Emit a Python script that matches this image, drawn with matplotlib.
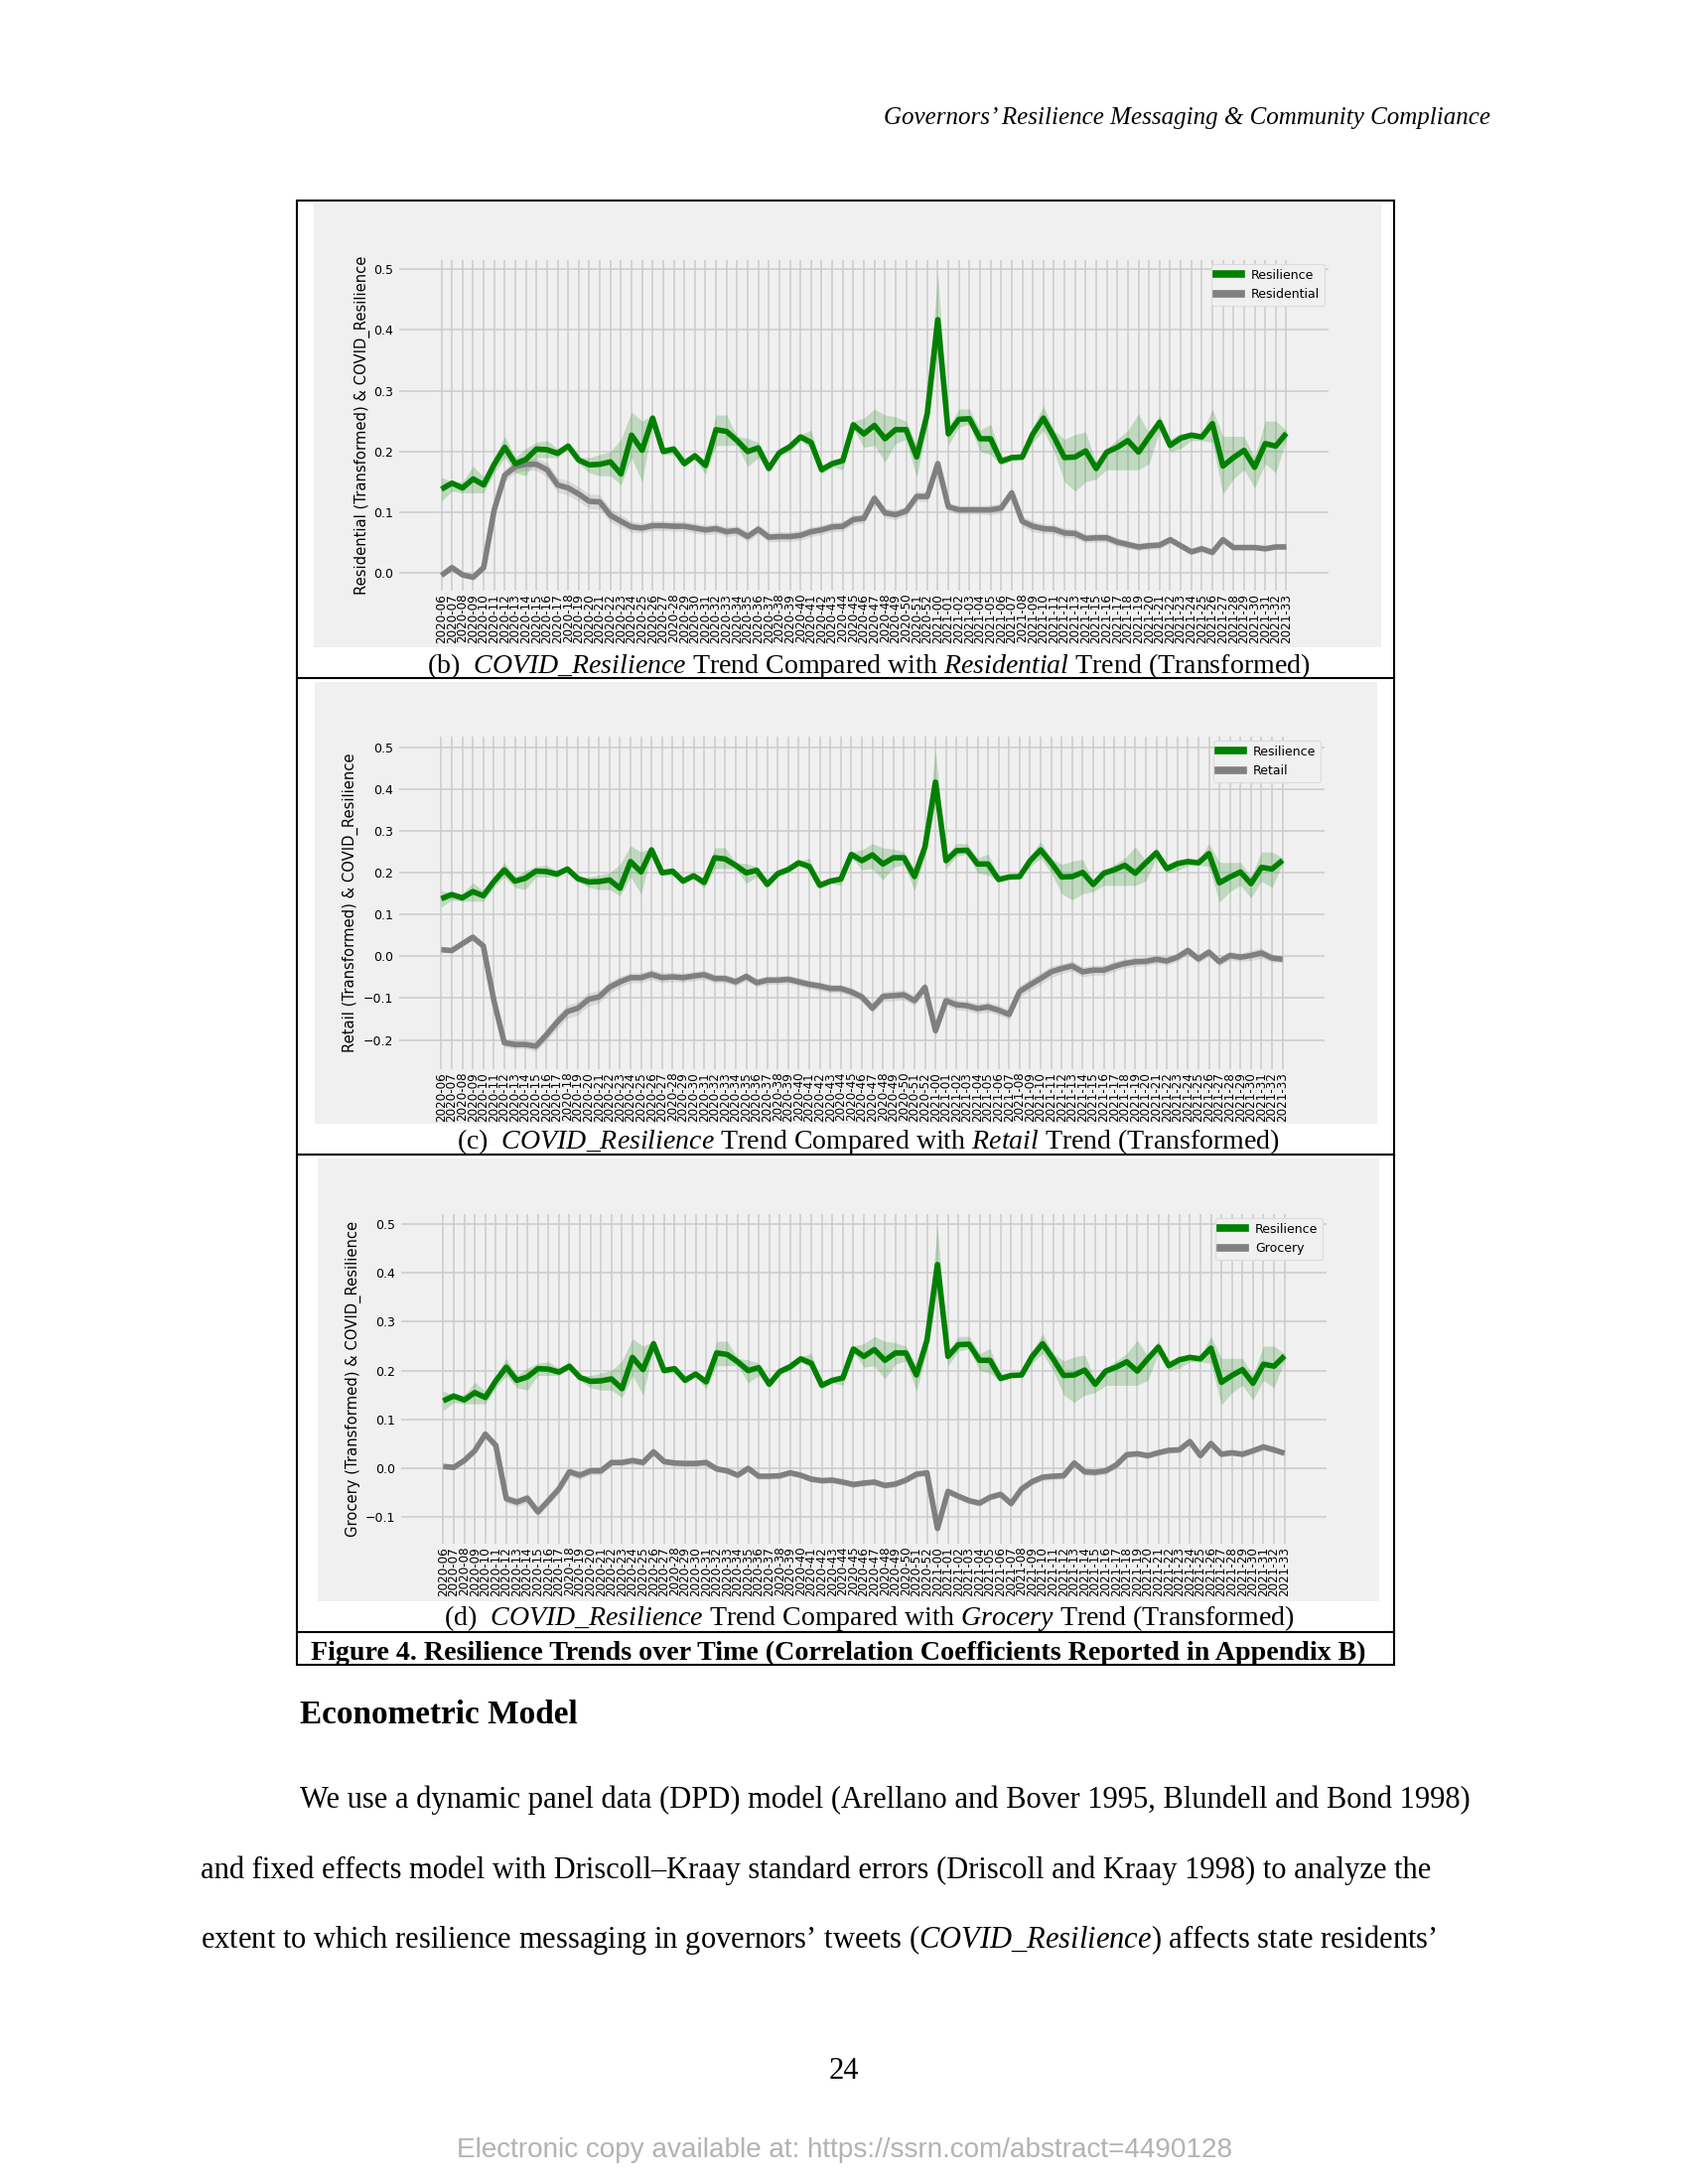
import numpy as np
import matplotlib
matplotlib.use("Agg")
import matplotlib.pyplot as plt
from matplotlib.patches import Rectangle
from matplotlib.lines import Line2D

plt.rcParams['mathtext.fontset'] = 'custom'
plt.rcParams['mathtext.rm'] = 'Liberation Serif'
plt.rcParams['mathtext.it'] = 'Liberation Serif:italic'
plt.rcParams['mathtext.bf'] = 'Liberation Serif:bold'

# week labels (x axis)
weeks = ['2020-%02d' % w for w in range(6, 53)] + ['2021-%02d' % w for w in range(0, 34)]

# COVID_Resilience mean and its band
resilience = [0.138, 0.148, 0.140, 0.155, 0.145, 0.179, 0.207, 0.180, 0.187, 0.204,
              0.203, 0.197, 0.209, 0.186, 0.178, 0.179, 0.183, 0.163, 0.227, 0.202,
              0.255, 0.200, 0.204, 0.180, 0.193, 0.177, 0.236, 0.233, 0.218, 0.200,
              0.206, 0.172, 0.198, 0.208, 0.224, 0.215, 0.170, 0.180, 0.185, 0.244,
              0.229, 0.243, 0.221, 0.236, 0.236, 0.191, 0.262, 0.417, 0.229, 0.253,
              0.254, 0.221, 0.221, 0.184, 0.190, 0.191, 0.229, 0.255, 0.224, 0.190,
              0.191, 0.201, 0.172, 0.199, 0.207, 0.218, 0.199, 0.224, 0.248, 0.210,
              0.222, 0.227, 0.224, 0.246, 0.176, 0.190, 0.202, 0.174, 0.213, 0.209,
              0.230]
res_hi = [0.158, 0.150, 0.150, 0.176, 0.158, 0.190, 0.225, 0.190, 0.205, 0.215,
          0.218, 0.205, 0.213, 0.190, 0.190, 0.195, 0.200, 0.220, 0.265, 0.250,
          0.260, 0.207, 0.210, 0.190, 0.197, 0.185, 0.260, 0.260, 0.225, 0.222,
          0.215, 0.180, 0.205, 0.213, 0.228, 0.235, 0.175, 0.185, 0.190, 0.250,
          0.255, 0.270, 0.260, 0.257, 0.250, 0.210, 0.280, 0.493, 0.240, 0.270,
          0.270, 0.235, 0.245, 0.190, 0.193, 0.195, 0.240, 0.275, 0.235, 0.220,
          0.228, 0.232, 0.180, 0.205, 0.220, 0.235, 0.262, 0.230, 0.260, 0.220,
          0.230, 0.230, 0.230, 0.270, 0.225, 0.225, 0.225, 0.190, 0.250, 0.250,
          0.235]
res_lo = [0.118, 0.135, 0.132, 0.132, 0.132, 0.165, 0.190, 0.165, 0.160, 0.190,
          0.190, 0.190, 0.205, 0.180, 0.165, 0.160, 0.160, 0.145, 0.190, 0.150,
          0.245, 0.195, 0.195, 0.175, 0.188, 0.163, 0.210, 0.210, 0.210, 0.175,
          0.190, 0.168, 0.193, 0.200, 0.218, 0.205, 0.163, 0.175, 0.170, 0.238,
          0.207, 0.210, 0.183, 0.213, 0.220, 0.158, 0.240, 0.365, 0.210, 0.240,
          0.245, 0.200, 0.195, 0.178, 0.186, 0.186, 0.215, 0.235, 0.200, 0.150,
          0.135, 0.150, 0.155, 0.170, 0.170, 0.170, 0.170, 0.180, 0.235, 0.200,
          0.205, 0.218, 0.218, 0.215, 0.130, 0.155, 0.170, 0.140, 0.180, 0.165,
          0.220]

# mobility series (transformed) and band half-widths
residential = [-0.004, 0.009, -0.003, -0.007, 0.009, 0.104, 0.161, 0.175, 0.179, 0.179,
               0.170, 0.145, 0.140, 0.130, 0.118, 0.117, 0.095, 0.085, 0.076, 0.074,
               0.078, 0.078, 0.077, 0.077, 0.074, 0.071, 0.073, 0.068, 0.070, 0.060,
               0.072, 0.059, 0.060, 0.060, 0.062, 0.068, 0.071, 0.076, 0.077, 0.088,
               0.090, 0.123, 0.099, 0.096, 0.102, 0.126, 0.126, 0.180, 0.109, 0.104,
               0.104, 0.104, 0.104, 0.107, 0.132, 0.085, 0.077, 0.073, 0.072, 0.066,
               0.065, 0.057, 0.058, 0.058, 0.051, 0.047, 0.043, 0.045, 0.046, 0.055,
               0.045, 0.035, 0.040, 0.034, 0.055, 0.042, 0.042, 0.042, 0.040, 0.043,
               0.043]
residential_ci = [0.004, 0.004, 0.004, 0.004, 0.005, 0.010, 0.010, 0.010, 0.010, 0.010,
                  0.012, 0.012, 0.012, 0.012, 0.012, 0.012, 0.011, 0.010, 0.009, 0.008,
                  0.008, 0.008, 0.008, 0.008, 0.008, 0.008, 0.008, 0.008, 0.008, 0.008,
                  0.008, 0.008, 0.008, 0.008, 0.008, 0.008, 0.008, 0.008, 0.008, 0.008,
                  0.008, 0.008, 0.008, 0.008, 0.008, 0.008, 0.008, 0.008, 0.007, 0.007,
                  0.007, 0.007, 0.008, 0.008, 0.008, 0.009, 0.009, 0.008, 0.008, 0.008,
                  0.008, 0.007, 0.007, 0.007, 0.007, 0.006, 0.006, 0.006, 0.006, 0.006,
                  0.005, 0.005, 0.005, 0.005, 0.005, 0.004, 0.004, 0.004, 0.004, 0.004,
                  0.004]
retail = [0.016, 0.014, 0.030, 0.046, 0.025, -0.105, -0.207, -0.211, -0.211, -0.215,
          -0.188, -0.158, -0.132, -0.124, -0.103, -0.097, -0.074, -0.061, -0.051, -0.051,
          -0.043, -0.051, -0.049, -0.051, -0.047, -0.044, -0.053, -0.053, -0.061, -0.048,
          -0.063, -0.057, -0.057, -0.055, -0.061, -0.067, -0.071, -0.077, -0.077, -0.085,
          -0.097, -0.124, -0.096, -0.094, -0.092, -0.106, -0.074, -0.178, -0.106, -0.116,
          -0.118, -0.125, -0.121, -0.129, -0.139, -0.084, -0.068, -0.053, -0.037, -0.029,
          -0.023, -0.037, -0.033, -0.033, -0.024, -0.017, -0.013, -0.012, -0.007, -0.011,
          -0.002, 0.014, -0.006, 0.010, -0.013, 0.002, -0.002, 0.002, 0.008, -0.004,
          -0.007]
retail_ci = [0.005, 0.005, 0.005, 0.005, 0.006, 0.008, 0.010, 0.010, 0.010, 0.012,
             0.014, 0.016, 0.016, 0.016, 0.016, 0.015, 0.014, 0.013, 0.012, 0.012,
             0.012, 0.012, 0.011, 0.011, 0.011, 0.011, 0.010, 0.010, 0.010, 0.010,
             0.010, 0.010, 0.010, 0.010, 0.010, 0.010, 0.010, 0.010, 0.010, 0.010,
             0.010, 0.010, 0.012, 0.012, 0.012, 0.012, 0.012, 0.014, 0.012, 0.012,
             0.012, 0.012, 0.012, 0.012, 0.012, 0.014, 0.014, 0.014, 0.014, 0.012,
             0.012, 0.012, 0.012, 0.012, 0.012, 0.011, 0.011, 0.010, 0.010, 0.010,
             0.010, 0.010, 0.010, 0.010, 0.010, 0.010, 0.010, 0.012, 0.012, 0.010,
             0.008]
grocery = [0.004, 0.002, 0.016, 0.036, 0.070, 0.047, -0.062, -0.069, -0.061, -0.089,
           -0.066, -0.042, -0.007, -0.014, -0.005, -0.005, 0.012, 0.012, 0.016, 0.012,
           0.034, 0.014, 0.011, 0.010, 0.010, 0.012, -0.001, -0.005, -0.014, 0.000,
           -0.016, -0.016, -0.015, -0.009, -0.014, -0.022, -0.025, -0.024, -0.028, -0.033,
           -0.030, -0.028, -0.035, -0.032, -0.024, -0.012, -0.009, -0.123, -0.047, -0.057,
           -0.066, -0.071, -0.059, -0.053, -0.072, -0.042, -0.027, -0.018, -0.016, -0.015,
           0.011, -0.007, -0.008, -0.005, 0.007, 0.028, 0.030, 0.026, 0.032, 0.037,
           0.038, 0.055, 0.026, 0.051, 0.029, 0.032, 0.029, 0.036, 0.044, 0.038,
           0.031]
grocery_ci = [0.005, 0.005, 0.005, 0.005, 0.006, 0.006, 0.008, 0.009, 0.009, 0.009,
              0.009, 0.009, 0.009, 0.009, 0.008, 0.008, 0.007, 0.007, 0.007, 0.007,
              0.007, 0.007, 0.007, 0.007, 0.007, 0.007, 0.006, 0.006, 0.006, 0.006,
              0.006, 0.006, 0.006, 0.006, 0.006, 0.006, 0.006, 0.006, 0.006, 0.006,
              0.006, 0.006, 0.006, 0.006, 0.006, 0.006, 0.006, 0.008, 0.006, 0.006,
              0.006, 0.006, 0.006, 0.006, 0.006, 0.007, 0.007, 0.007, 0.007, 0.007,
              0.007, 0.007, 0.007, 0.007, 0.007, 0.006, 0.006, 0.006, 0.006, 0.006,
              0.006, 0.006, 0.006, 0.006, 0.006, 0.006, 0.006, 0.006, 0.007, 0.006,
              0.005]

W, H = 1700, 2200
fig = plt.figure(figsize=(17, 22), dpi=100)
fig.patch.set_facecolor('white')


def box(l, t, r, b):
    return [l / W, 1 - b / H, (r - l) / W, (b - t) / H]


# panel: name, series, band, bg rect, axes rect, ylim, yticks, tag, caption y, ylabel x (px)
panels = [
    ('Residential', residential, residential_ci, (316, 205, 1391, 652), (402, 262, 1338, 595),
     (-0.029, 0.515), [0.0, 0.1, 0.2, 0.3, 0.4, 0.5], '(b)', 671, 373),
    ('Retail', retail, retail_ci, (317, 687, 1387, 1132), (402, 742, 1334, 1077),
     (-0.27, 0.526), [-0.2, -0.1, 0.0, 0.1, 0.2, 0.3, 0.4, 0.5], '(c)', 1150, 361),
    ('Grocery', grocery, grocery_ci, (320, 1167, 1389, 1613), (404, 1223, 1336, 1555),
     (-0.154, 0.52), [-0.1, 0.0, 0.1, 0.2, 0.3, 0.4, 0.5], '(d)', 1630, 364),
]

x = np.arange(len(weeks))
for name, series, ci, bg, rect, ylim, yt, tag, cy, lx in panels:
    fig.add_artist(Rectangle((bg[0] / W, 1 - bg[3] / H), (bg[2] - bg[0]) / W, (bg[3] - bg[1]) / H,
                             transform=fig.transFigure, facecolor='#f0f0f0', edgecolor='none',
                             zorder=-5))
    ax = fig.add_axes(box(*rect), facecolor='#f0f0f0')
    s = np.array(series)
    c = np.array(ci)
    ax.fill_between(x, s - c, s + c, color='grey', alpha=0.2, lw=0)
    ax.plot(x, s, color='grey', lw=4.0, solid_capstyle='butt')
    ax.fill_between(x, res_lo, res_hi, color='green', alpha=0.2, lw=0)
    ax.plot(x, resilience, color='green', lw=4.0, solid_capstyle='butt')
    ax.set_xlim(-4, 84)
    ax.set_ylim(*ylim)
    ax.set_xticks(x)
    ax.set_xticklabels(weeks, rotation=90, fontsize=8.6)
    ax.set_yticks(yt)
    ax.tick_params(axis='y', labelsize=9.0, length=0, pad=4)
    ax.tick_params(axis='x', length=0, pad=2)
    for sp in ax.spines.values():
        sp.set_visible(False)
    ax.grid(True, color='#cbcbcb', lw=1.1)
    ax.set_axisbelow(True)
    ax.set_ylabel('%s (Transformed) & COVID_Resilience' % name, fontsize=10.6)
    ax.yaxis.set_label_coords((lx - rect[0]) / (rect[2] - rect[0]), 0.5)
    handles = [Line2D([], [], color='green', lw=5.5), Line2D([], [], color='grey', lw=5.5)]
    leg = ax.legend(handles, ['Resilience', name], loc='upper right', fontsize=9.0,
                    borderaxespad=0.3, facecolor='#f0f0f0', edgecolor='#dcdcdc',
                    framealpha=1, handlelength=2.0)
    leg.get_frame().set_linewidth(0.8)

# frame around the figure
lw_f = 1.5
fig.add_artist(Rectangle((299 / W, 1 - 1677 / H), (1404 - 299) / W, (1677 - 202) / H,
                         transform=fig.transFigure, fill=False, edgecolor='black', lw=lw_f))
for yy in [683, 1163, 1644]:
    fig.add_artist(Line2D([299 / W, 1404 / W], [1 - yy / H, 1 - yy / H],
                          transform=fig.transFigure, color='black', lw=lw_f))

r = fig.canvas.get_renderer()
serif = 'Liberation Serif'


def put(xp, yp, s, ha='left', size=20, **kw):
    return fig.text(xp / W, 1 - yp / H, s, ha=ha, va='center', fontsize=size,
                    family=serif, **kw)


def fit_size(s, width, **kw):
    t = fig.text(0, 0, s, fontsize=20, family=serif, **kw)
    w = t.get_window_extent(renderer=r).width
    t.remove()
    return 20 * width / w


cap_txt = [(r'%s  $\mathit{COVID\_Resilience}$ Trend Compared with $\mathit{%s}$ Trend (Transformed)'
            % (p[7], p[0]), p[8]) for p in panels]
cap_size = fit_size(cap_txt[0][0], 889)
for s, cy in cap_txt:
    put(875, cy, s, ha='center', size=cap_size)

fig4 = 'Figure 4. Resilience Trends over Time (Correlation Coefficients Reported in Appendix B)'
put(844, 1665, fig4, ha='center', size=fit_size(fig4, 1061, weight='bold'), weight='bold')

header = 'Governors\u2019 Resilience Messaging & Community Compliance'
put(1501, 119, header, ha='right', size=fit_size(header, 612, style='italic'), style='italic')

head2 = 'Econometric Model'
put(302, 1728, head2, size=fit_size(head2, 280, weight='bold'), weight='bold')

body = ['We use a dynamic panel data (DPD) model (Arellano and Bover 1995, Blundell and Bond 1998)',
        'and fixed effects model with Driscoll\u2013Kraay standard errors (Driscoll and Kraay 1998) to analyze the',
        r'extent to which resilience messaging in governors' + '\u2019' +
        r' tweets ($\mathit{COVID\_Resilience}$) affects state residents' + '\u2019']
body_size = fit_size(body[1], 1241)
put(302, 1813, body[0], size=body_size)
put(202, 1884, body[1], size=body_size)
put(202, 1954, body[2], size=body_size)

put(850, 2087, '24', ha='center', size=body_size)

footer = 'Electronic copy available at: https://ssrn.com/abstract=4490128'
t = fig.text(0, 0, footer, fontsize=20, family='Liberation Sans')
fs = 20 * 779 / t.get_window_extent(renderer=r).width
t.remove()
fig.text(850 / W, 1 - 2166 / H, footer, ha='center', va='center', fontsize=fs,
         family='Liberation Sans', color='#b3b3b3')

fig.savefig('out.png', dpi=100, facecolor='white')
